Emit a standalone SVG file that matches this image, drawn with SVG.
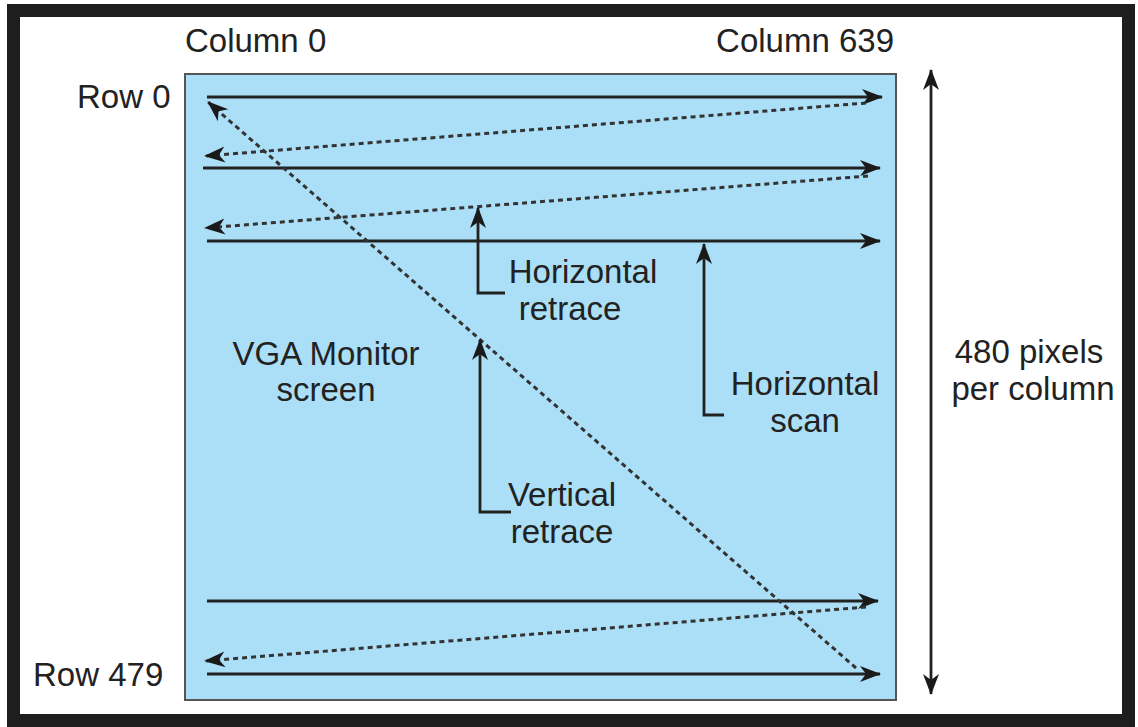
<svg xmlns="http://www.w3.org/2000/svg" width="1138" height="727" viewBox="0 0 1138 727">
<style>
text{font-family:"Liberation Sans",Arial,sans-serif;font-size:33px;fill:#222}
.s{stroke:#222;stroke-width:2.8;fill:none}
.d{stroke:#333;stroke-width:3;fill:none;stroke-dasharray:5 4}
</style>
<defs>
<marker id="ah" markerUnits="userSpaceOnUse" markerWidth="24" markerHeight="18" refX="20" refY="9" orient="auto-start-reverse" viewBox="0 0 24 18">
<path d="M0,1 L21,9 L0,17 L6,9 z" fill="#1a1a1a"/>
</marker>
</defs>
<rect x="13.5" y="10.5" width="1115" height="710" fill="#fff" stroke="#1e1e1e" stroke-width="13"/>
<g id="screen">
<rect x="185" y="74" width="711" height="626" fill="#aadff7" stroke="#555" stroke-width="2"/>
</g>
<g id="connectors">
<line class="s" x1="207" y1="97" x2="882" y2="97" marker-end="url(#ah)"/>
<line class="s" x1="203" y1="168" x2="880" y2="168" marker-end="url(#ah)"/>
<line class="s" x1="207" y1="241" x2="880" y2="241" marker-end="url(#ah)"/>
<line class="s" x1="207" y1="601" x2="878" y2="601" marker-end="url(#ah)"/>
<line class="s" x1="207" y1="674" x2="880" y2="674" marker-end="url(#ah)"/>
<line class="d" x1="866" y1="103" x2="205" y2="156" marker-end="url(#ah)"/>
<line class="d" x1="868" y1="176" x2="205" y2="228" marker-end="url(#ah)"/>
<line class="d" x1="866" y1="607" x2="205" y2="661" marker-end="url(#ah)"/>
<line class="d" x1="856" y1="668" x2="208" y2="102" marker-end="url(#ah)"/>
<line class="s" x1="931" y1="70" x2="931" y2="694" marker-start="url(#ah)" marker-end="url(#ah)"/>
<polyline class="s" points="505,293 478,293 478,208" marker-end="url(#ah)"/>
<polyline class="s" points="724,415 704,415 704,244" marker-end="url(#ah)"/>
<polyline class="s" points="511,512 480,512 480,340" marker-end="url(#ah)"/>
</g>
<g id="labels">
<text x="185" y="52">Column 0</text>
<text x="894" y="52" text-anchor="end">Column 639</text>
<text x="77" y="108">Row 0</text>
<text x="33" y="686">Row 479</text>
<text x="583" y="283" text-anchor="middle">Horizontal</text>
<text x="570" y="320" text-anchor="middle">retrace</text>
<text x="326" y="365" text-anchor="middle">VGA Monitor</text>
<text x="326" y="401" text-anchor="middle">screen</text>
<text x="805" y="395" text-anchor="middle">Horizontal</text>
<text x="805" y="432" text-anchor="middle">scan</text>
<text x="562" y="506" text-anchor="middle">Vertical</text>
<text x="562" y="543" text-anchor="middle">retrace</text>
<text x="1029" y="363" text-anchor="middle">480 pixels</text>
<text x="1033" y="400" text-anchor="middle">per column</text>
</g>
</svg>
